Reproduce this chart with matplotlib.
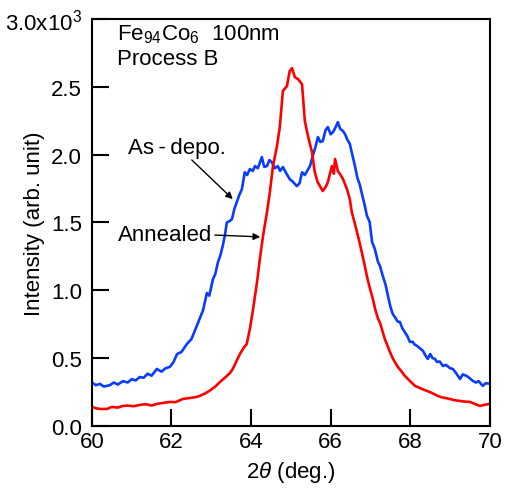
import numpy as np
import matplotlib
matplotlib.use("Agg")
import matplotlib.pyplot as plt

plt.rcParams['font.family'] = ['Liberation Sans', 'DejaVu Sans']
plt.rcParams['mathtext.fontset'] = 'custom'
plt.rcParams['mathtext.rm'] = 'Liberation Sans'
plt.rcParams['mathtext.it'] = 'Liberation Sans:italic'

# As-deposited film (blue)
asdepo_2theta = [60.00, 60.10, 60.20, 60.30, 60.45, 60.55, 60.65, 60.78, 60.90, 61.00,
                 61.10, 61.20, 61.30, 61.40, 61.50, 61.63, 61.75, 61.85, 61.96, 62.05,
                 62.14, 62.25, 62.39, 62.50, 62.64, 62.72, 62.79, 62.89, 62.95, 63.04,
                 63.10, 63.17, 63.23, 63.29, 63.35, 63.39, 63.46, 63.52, 63.58, 63.64,
                 63.70, 63.77, 63.84, 63.90, 63.97, 64.04, 64.10, 64.17, 64.27, 64.33,
                 64.40, 64.46, 64.52, 64.60, 64.67, 64.73, 64.80, 64.87, 64.97, 65.05,
                 65.15, 65.22, 65.28, 65.35, 65.41, 65.48, 65.55, 65.62, 65.68, 65.74,
                 65.80, 65.87, 65.93, 66.00, 66.06, 66.12, 66.18, 66.24, 66.31, 66.36,
                 66.42, 66.48, 66.55, 66.61, 66.67, 66.73, 66.80, 66.86, 66.91, 66.98,
                 67.04, 67.11, 67.19, 67.24, 67.31, 67.38, 67.44, 67.50, 67.56, 67.62,
                 67.68, 67.74, 67.80, 67.86, 67.93, 67.99, 68.06, 68.11, 68.17, 68.25,
                 68.32, 68.38, 68.44, 68.50, 68.56, 68.62, 68.67, 68.74, 68.82, 68.90,
                 69.00, 69.07, 69.15, 69.25, 69.32, 69.42, 69.50, 69.57, 69.65, 69.72,
                 69.82, 69.90, 70.00]
asdepo_int = [320, 300, 310, 290, 300, 320, 305, 330, 320, 345,
              335, 360, 355, 385, 370, 420, 400, 425, 435, 470,
              530, 545, 605, 640, 740, 800, 850, 980, 960, 1080,
              1120, 1210, 1260, 1330, 1420, 1500, 1510, 1525, 1600, 1650,
              1700, 1746, 1870, 1850, 1894, 1880, 1916, 1900, 1982, 1910,
              1916, 1960, 1945, 1900, 1916, 1880, 1909, 1870, 1820, 1800,
              1768, 1790, 1870, 1850, 1880, 1916, 1990, 2060, 2130, 2093,
              2100, 2180, 2203, 2150, 2167, 2200, 2240, 2190, 2174, 2152,
              2110, 2080, 1990, 1916, 1830, 1780, 1695, 1620, 1550, 1503,
              1356, 1304, 1208, 1179, 1105, 1040, 958, 880, 825, 800,
              770, 766, 720, 693, 660, 619, 620, 600, 590, 570,
              553, 520, 494, 530, 500, 494, 472, 475, 442, 450,
              425, 420, 390, 346, 380, 368, 350, 332, 320, 330,
              295, 315, 310]

# Annealed film (red)
anneal_2theta = [60.00, 60.10, 60.20, 60.38, 60.50, 60.65, 60.78, 60.90, 61.05, 61.21,
                 61.35, 61.50, 61.63, 61.80, 61.96, 62.10, 62.29, 62.45, 62.64, 62.71,
                 62.85, 62.96, 63.10, 63.22, 63.30, 63.39, 63.47, 63.54, 63.62, 63.72,
                 63.80, 63.89, 63.97, 64.05, 64.15, 64.22, 64.30, 64.40, 64.47, 64.55,
                 64.65, 64.72, 64.80, 64.90, 64.97, 65.03, 65.10, 65.18, 65.28, 65.35,
                 65.43, 65.53, 65.60, 65.67, 65.73, 65.80, 65.87, 65.93, 66.03, 66.08,
                 66.11, 66.18, 66.25, 66.31, 66.41, 66.48, 66.53, 66.60, 66.66, 66.72,
                 66.78, 66.85, 66.91, 66.98, 67.06, 67.12, 67.19, 67.24, 67.30, 67.36,
                 67.43, 67.49, 67.55, 67.61, 67.70, 67.79, 67.86, 67.94, 68.03, 68.12,
                 68.20, 68.29, 68.40, 68.49, 68.60, 68.69, 68.80, 68.90, 68.99, 69.10,
                 69.25, 69.35, 69.50, 69.60, 69.75, 69.85, 70.00]
anneal_int = [140, 130, 125, 125, 140, 135, 147, 150, 145, 155,
              160, 150, 162, 170, 177, 175, 199, 205, 214, 221,
              240, 260, 290, 324, 345, 368, 390, 420, 470, 530,
              570, 604, 715, 862, 1061, 1230, 1400, 1577, 1720, 1916,
              2063, 2200, 2470, 2505, 2616, 2638, 2572, 2557, 2520, 2250,
              2137, 2019, 1872, 1800, 1768, 1732, 1760, 1798, 1916, 1860,
              1968, 1880, 1850, 1820, 1746, 1673, 1577, 1500, 1430, 1360,
              1282, 1190, 1105, 1020, 936, 860, 790, 760, 700, 641,
              590, 545, 505, 472, 430, 398, 370, 346, 320, 295,
              285, 273, 260, 250, 235, 221, 210, 205, 199, 190,
              184, 180, 177, 165, 147, 155, 162]

fig, ax = plt.subplots(figsize=(5.05, 4.89), dpi=100)
fig.subplots_adjust(left=0.182, right=0.970, top=0.959, bottom=0.127)

ax.plot(asdepo_2theta, asdepo_int, color='#0a3cff', lw=1.9)
ax.plot(anneal_2theta, anneal_int, color='#ff0000', lw=1.9)

ax.set_xlim(60, 70)
ax.set_ylim(0, 3000)
ax.set_xticks(np.arange(60, 71, 2))
ax.set_yticks(np.arange(0, 3001, 500))
ax.set_yticklabels(['0.0', '0.5', '1.0', '1.5', '2.0', '2.5', '3.0x10$^3$'])
ax.tick_params(direction='in', length=12, width=1.5, labelsize=16)
ax.tick_params(axis='x', pad=4)
ax.tick_params(axis='y', pad=7)
for s in ax.spines.values():
    s.set_linewidth(1.5)

ax.set_xlabel('2$\\mathit{\\theta}$ (deg.)', fontsize=16, labelpad=5)
ax.set_ylabel('Intensity (arb. unit)', fontsize=16)
ax.yaxis.set_label_coords(-0.118, 0.5)

ax.text(60.62, 2975, 'Fe$_{94}$Co$_6$  100nm', fontsize=16, va='top', ha='left')
ax.text(60.62, 2790, 'Process B', fontsize=16, va='top', ha='left')

ax.text(62.14, 2056, 'As\u2009-\u2009depo.', fontsize=16, ha='center', va='center')
ax.annotate('', xy=(63.59, 1658), xytext=(62.46, 1975),
            arrowprops=dict(arrowstyle='-|>', color='k', lw=1, mutation_scale=10))
ax.text(61.83, 1408, 'Annealed', fontsize=16, ha='center', va='center')
ax.annotate('', xy=(64.30, 1393), xytext=(63.02, 1408),
            arrowprops=dict(arrowstyle='-|>', color='k', lw=1, mutation_scale=10))

fig.savefig('out.png', dpi=100)
